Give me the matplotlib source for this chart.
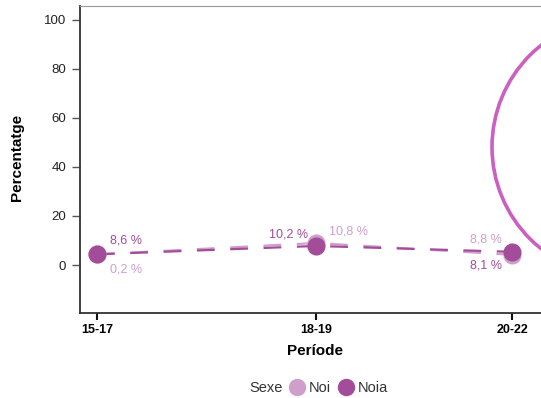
import matplotlib
matplotlib.use("Agg")
import matplotlib.pyplot as plt
from matplotlib.lines import Line2D
from matplotlib.patches import Ellipse

plt.rcParams["font.family"] = ["Liberation Sans", "DejaVu Sans"]

# data
periods = ["15-17", "18-19", "20-22"]
x_pos = [0, 1, 1.895]  # uneven spacing as in the original
noi = [4.4, 9.0, 4.2]
noia = [4.4, 7.8, 5.4]
noi_labels = ["0,2 %", "10,8 %", "8,8 %"]
noia_labels = ["8,6 %", "10,2 %", "8,1 %"]

DARK = "#a24c9a"
LIGHT = "#cf9fcc"
CIRCLE = "#cc5fc2"

fig = plt.figure(figsize=(5.41, 3.98), dpi=100)
ax = fig.add_axes([80 / 541, 1 - 313 / 398, 1.1 - 80 / 541, (313 - 6) / 398])

ax.plot(x_pos, noi, color=LIGHT, lw=1.6, dashes=(8, 7), zorder=2)
ax.plot(x_pos, noia, color=DARK, lw=1.6, dashes=(8, 7), zorder=2)
ax.plot(x_pos, noi, "o", color=LIGHT, ms=12, zorder=3)
ax.plot(x_pos, noia, "o", color=DARK, ms=12, zorder=4)

# value labels (offsets in points)
noia_off = [(9, 10), (-6, 8), (-7, -10)]
noi_off = [(9, -11), (9, 8), (-7, 11)]
for x, y, t, (dx, dy) in zip(x_pos, noia, noia_labels, noia_off):
    ax.annotate(t, (x, y), xytext=(dx, dy), textcoords="offset points",
                color=DARK, fontsize=9, ha="left" if dx > 0 else "right",
                va="center")
for x, y, t, (dx, dy) in zip(x_pos, noi, noi_labels, noi_off):
    ax.annotate(t, (x, y), xytext=(dx, dy), textcoords="offset points",
                color=LIGHT, fontsize=9, ha="left" if dx > 0 else "right",
                va="center")

ax.set_ylim(-19.5, 105.5)
ax.set_xlim(-17 / 219, (595 - 97) / 219)
ax.set_yticks([0, 20, 40, 60, 80, 100])
ax.set_xticks(x_pos)
ax.set_xticklabels(periods, fontweight="bold")
ax.tick_params(axis="y", length=6, width=1, color="#555555", labelsize=9.5,
               labelcolor="#222222", pad=4)
ax.tick_params(axis="x", length=5, width=1.5, color="#111111", labelsize=9,
               pad=3)

ax.spines["right"].set_visible(False)
ax.spines["top"].set_color("#999999")
ax.spines["left"].set_color("#333333")
ax.spines["bottom"].set_color("#333333")
for s in ["left", "bottom"]:
    ax.spines[s].set_linewidth(1.3)

fig.text(17 / 541, 1 - 157 / 398, "Percentatge", rotation=90, ha="center",
         va="center", fontsize=11, fontweight="bold")
fig.text(315 / 541, 1 - 351 / 398, "Període", ha="center", va="center",
         fontsize=11, fontweight="bold")

handles = [
    Line2D([], [], linestyle="none", marker=None),
    Line2D([], [], linestyle="none", marker="o", color=LIGHT, ms=11.5),
    Line2D([], [], linestyle="none", marker="o", color=DARK, ms=11.5),
]
fig.legend(handles, ["Sexe", "Noi", "Noia"], loc="center",
           bbox_to_anchor=(309 / 541, 1 - 388 / 398), ncol=3, frameon=False,
           fontsize=10.5, handlelength=1.0, handletextpad=0.3,
           columnspacing=0.5, labelcolor="#333333")

# highlight ellipse, partly outside the figure
fig.add_artist(Ellipse((622 / 541, 1 - 147 / 398), 260 / 541, 260 / 398,
                       transform=fig.transFigure, fill=False, ec=CIRCLE,
                       lw=2.6, clip_on=False))

fig.savefig("out.png", dpi=100)
